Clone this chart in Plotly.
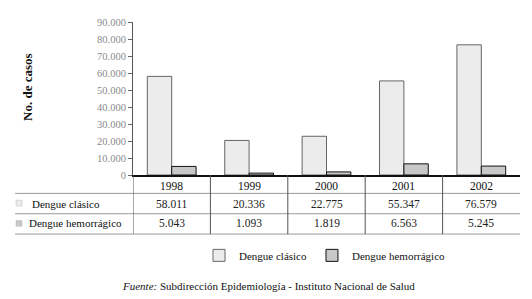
import plotly.graph_objects as go

years = ["1998", "1999", "2000", "2001", "2002"]
clasico = [58011, 20336, 22775, 55347, 76579]
hemorragico = [5043, 1093, 1819, 6563, 5245]
series_names = ["Dengue clásico", "Dengue hemorrágico"]
y_ticks = [0, 10000, 20000, 30000, 40000, 50000, 60000, 70000, 80000, 90000]

OFF = 8  # default page body margin
W, H = 532 - OFF, 299 - OFF
L, R, T, B = 133 - OFF, 12, 17 - OFF, 124
PW = W - L - R
PH = H - T - B

SERIF = "Times New Roman"


def py(p):
    return (H - B - (p - OFF)) / PH


def px(p):
    return (p - OFF - L) / PW


def fmt(v):
    return f"{v:,}".replace(",", ".")


fig = go.Figure()
fig.add_trace(go.Bar(
    x=years, y=clasico, name=series_names[0],
    marker=dict(color="#ececec", line=dict(color="#666666", width=1)),
))
fig.add_trace(go.Bar(
    x=years, y=hemorragico, name=series_names[1],
    marker=dict(color="#c8c8c8", line=dict(color="#111111", width=1)),
))

shapes = []
for yy in [194, 215, 236]:
    shapes.append(dict(type="line", xref="paper", yref="paper",
                       x0=px(15), x1=px(520), y0=py(yy), y1=py(yy),
                       line=dict(color="#9a9a9a", width=1)))
for i in range(len(years)):
    shapes.append(dict(type="line", xref="x", yref="paper",
                       x0=i - 0.5, x1=i - 0.5, y0=py(175), y1=py(236),
                       line=dict(color="#555555", width=1)))
for yy, col in [(204, "#ececec"), (225, "#c8c8c8")]:
    shapes.append(dict(type="rect", xref="paper", yref="paper",
                       x0=px(16), x1=px(22), y0=py(yy - 3), y1=py(yy + 3),
                       fillcolor=col, line=dict(color="#bbbbbb", width=0.5)))


def ann(x, y, text, xref="paper", xanchor="center", size=11, color="#111", **kw):
    return dict(x=x, y=y, xref=xref, yref="paper", text=text, showarrow=False,
                xanchor=xanchor, yanchor="middle",
                font=dict(size=size, color=color, family=SERIF), **kw)


annotations = []
for i, yr in enumerate(years):
    annotations.append(ann(i, py(186), yr, xref="x", size=11.5))
    annotations.append(ann(i, py(204.5), fmt(clasico[i]), xref="x", size=11.5, color="#222"))
    annotations.append(ann(i, py(225), fmt(hemorragico[i]), xref="x", size=11.5, color="#222"))

annotations.append(ann(px(30), py(204.5), series_names[0], xanchor="left"))
annotations.append(ann(px(27), py(225), series_names[1], xanchor="left"))
annotations.append(ann(px(28), py(84), "<b>No. de casos</b>", size=13, textangle=-90))
annotations.append(ann(px(268), py(290),
                       "<i>Fuente:</i> Subdirección Epidemiología - Instituto Nacional de Salud"))

fig.update_layout(
    width=W, height=H,
    margin=dict(l=L, r=R, t=T, b=B, pad=0),
    paper_bgcolor="white", plot_bgcolor="white",
    font=dict(family=SERIF),
    barmode="group", bargap=0.37, bargroupgap=0,
    separators=",.",
    showlegend=True,
    legend=dict(orientation="h", x=px(325), xanchor="center", y=py(258), yanchor="middle",
                font=dict(size=11, color="#111", family=SERIF),
                itemwidth=30, tracegroupgap=0),
    xaxis=dict(showline=True, linecolor="#111", linewidth=1.5, showticklabels=False,
               ticks="", showgrid=False, zeroline=False, range=[-0.5, 4.5]),
    yaxis=dict(range=[0, 90000], tickvals=y_ticks, tickformat=",d",
               showline=True, linecolor="#555", linewidth=1, ticks="outside", ticklen=4,
               tickcolor="#666", showgrid=False, zeroline=False,
               tickfont=dict(size=10.5, color="#8a8a8a", family=SERIF)),
    shapes=shapes, annotations=annotations,
)

fig.write_html("out.html")
